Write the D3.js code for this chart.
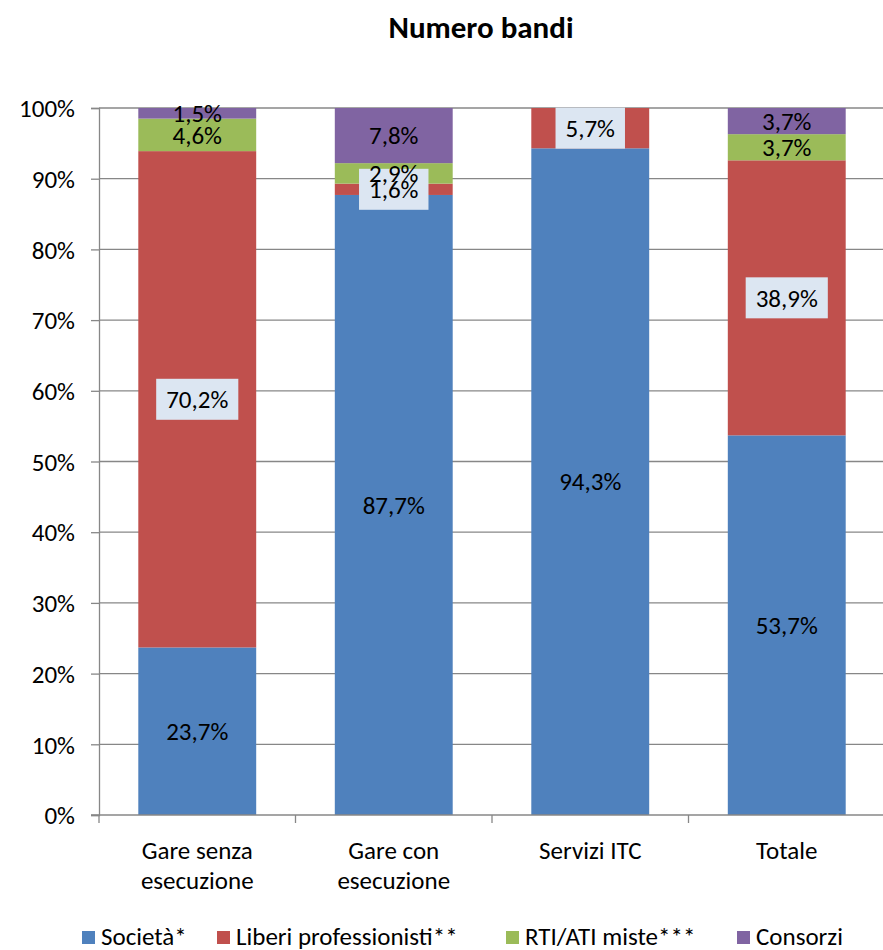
<!DOCTYPE html>
<html>
<head>
<meta charset="utf-8">
<script src="https://cdn.jsdelivr.net/npm/d3@7/dist/d3.min.js"></script>
<style>
  body { margin: 0; background: #fff; }
  svg text { font-family: Carlito, Calibri, Lato, sans-serif; fill: #000; }
</style>
</head>
<body>
<svg id="chart" width="883" height="950"></svg>
<script>
  // data
  var categories = [['Gare senza', 'esecuzione'], ['Gare con', 'esecuzione'], ['Servizi ITC'], ['Totale']];
  var seriesNames = ['Società*', 'Liberi professionisti**', 'RTI/ATI miste***', 'Consorzi'];
  var societa = [23.7, 87.7, 94.3, 53.7];
  var liberi = [70.2, 1.6, 5.7, 38.9];
  var rti = [4.6, 2.9, 0, 3.7];
  var consorzi = [1.5, 7.8, 0, 3.7];
  var yTicks = [0, 10, 20, 30, 40, 50, 60, 70, 80, 90, 100];

(function() {
  'use strict';

  var
    COLORS = ['#4f81bd', '#c0504d', '#9bbb59', '#8064a2'],
    BOXED = [false, true, false, false],
    FONT = '25px',
    GRID = '#878787',

    svg = d3.select('#chart'),
    plotLeft = 99, plotRight = 885, plotTop = 108, plotBottom = 815;

  var x = d3.scaleBand()
    .domain(d3.range(categories.length))
    .range([plotLeft, plotRight])
    .paddingInner(0.4)
    .paddingOuter(0.2);

  var y = d3.scaleLinear().domain([0, 100]).range([plotBottom, plotTop]);

  var rows = categories.map(function(c, i) {
    return {i: i, s0: societa[i], s1: liberi[i], s2: rti[i], s3: consorzi[i]};
  });
  var stack = d3.stack().keys(['s0', 's1', 's2', 's3'])(rows);

  svg.append('text')
    .attr('x', 481).attr('y', 38)
    .attr('text-anchor', 'middle')
    .style('font-weight', 'bold')
    .style('font-size', '31px')
    .text('Numero bandi');

  // gridlines
  svg.append('g').selectAll('line')
    .data(yTicks.slice(1))
    .enter().append('line')
    .attr('x1', plotLeft).attr('x2', 883)
    .attr('y1', function(d) { return y(d); })
    .attr('y2', function(d) { return y(d); })
    .attr('stroke', GRID).attr('stroke-width', 1.3);

  var groups = svg.append('g').selectAll('g')
    .data(stack).enter().append('g')
    .attr('fill', function(d, k) { return COLORS[k]; });

  groups.selectAll('rect')
    .data(function(d) { return d; })
    .enter().append('rect')
    .attr('x', function(d) { return x(d.data.i); })
    .attr('width', x.bandwidth())
    .attr('y', function(d) { return y(d[1]); })
    .attr('height', function(d) { return y(d[0]) - y(d[1]); });

  // y axis
  var yAxis = d3.axisLeft(y)
    .tickValues(yTicks)
    .tickSize(8)
    .tickPadding(16)
    .tickFormat(function(d) { return d + '%'; });
  var gy = svg.append('g').attr('transform', 'translate(' + plotLeft + ',0)').call(yAxis);
  gy.select('.domain').attr('stroke', GRID).attr('stroke-width', 1.3);
  gy.selectAll('.tick line').attr('stroke', GRID).attr('stroke-width', 1.3);
  gy.selectAll('.tick text')
    .style('font-size', FONT)
    .style('font-family', 'Carlito, Calibri, Lato, sans-serif')
    .attr('dy', '0.35em');

  // x axis
  var gx = svg.append('g').attr('transform', 'translate(0,' + plotBottom + ')');
  gx.append('line')
    .attr('x1', plotLeft - 8).attr('x2', plotRight)
    .attr('stroke', GRID).attr('stroke-width', 1.3);
  var bounds = d3.range(categories.length + 1).map(function(i) {
    return i < categories.length ? x(i) - x.step() * x.paddingInner() / 2 : plotRight - 1;
  });
  gx.selectAll('.xt').data(bounds).enter().append('line')
    .attr('x1', function(d) { return d; }).attr('x2', function(d) { return d; })
    .attr('y1', 0).attr('y2', 8)
    .attr('stroke', GRID).attr('stroke-width', 1.3);
  gx.selectAll('.xl').data(categories).enter().append('text')
    .attr('text-anchor', 'middle')
    .attr('x', function(d, i) { return x(i) + x.bandwidth() / 2; })
    .style('font-size', FONT)
    .each(function(d) {
      var t = d3.select(this);
      d.forEach(function(line, j) {
        t.append('tspan').attr('x', t.attr('x')).attr('y', 44 + j * 30).text(line);
      });
    });

  // value labels
  stack.forEach(function(layer, k) {
    layer.forEach(function(d) {
      var v = d[1] - d[0];
      if (!v) return;
      var cx = x(d.data.i) + x.bandwidth() / 2;
      var cy = (y(d[0]) + y(d[1])) / 2;
      var g = svg.append('g');
      var t = g.append('text')
        .attr('x', cx).attr('y', cy)
        .attr('text-anchor', 'middle')
        .attr('dy', '0.35em')
        .style('font-size', FONT)
        .text(v.toFixed(1).replace('.', ',') + '%');
      if (BOXED[k]) {
        var w = t.node().getComputedTextLength();
        g.insert('rect', 'text')
          .attr('x', cx - w / 2 - 10).attr('y', cy - 20.5)
          .attr('width', w + 20).attr('height', 41)
          .attr('fill', '#dce6f2');
      }
    });
  });

  // legend
  var legendX = [82, 217, 506, 737];
  var lg = svg.append('g').selectAll('g')
    .data(seriesNames).enter().append('g')
    .attr('transform', function(d, i) { return 'translate(' + legendX[i] + ',936)'; });
  lg.append('rect')
    .attr('x', 0).attr('y', -5).attr('width', 13).attr('height', 13)
    .attr('fill', function(d, i) { return COLORS[i]; });
  lg.append('text')
    .attr('x', 19).attr('dy', '0.35em')
    .style('font-size', FONT)
    .text(function(d) { return d; });
})();
</script>
</body>
</html>
